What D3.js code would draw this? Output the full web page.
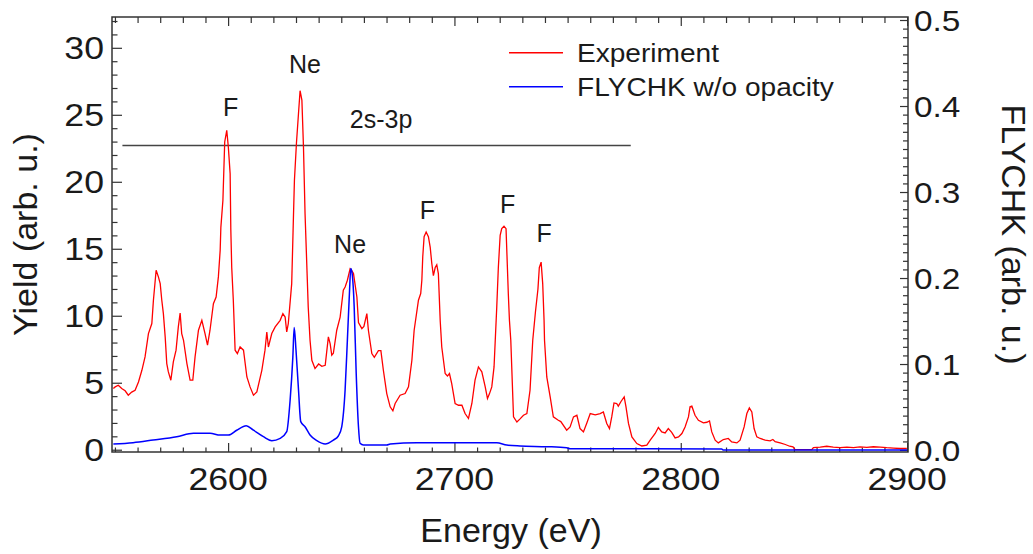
<!DOCTYPE html>
<html><head><meta charset="utf-8">
<script src="https://cdn.jsdelivr.net/npm/d3@7"></script>
<style>
html,body{margin:0;padding:0;background:#fff;}
svg{display:block;font-family:"Liberation Sans",Arial,sans-serif;}
</style></head>
<body>
<svg id="chart" width="1033" height="554"></svg>
<script>
// ---------- data ----------
const expEnergy = [2549.3,2550.1,2551.5,2553.0,2554.5,2555.9,2557.4,2558.9,2560.4,2561.9,2563.3,2564.8,2566.3,2567.0,2568.2,2569.2,2570.0,2570.7,2571.4,2572.2,2572.9,2573.6,2574.7,2575.8,2577.0,2578.0,2578.8,2579.5,2580.3,2581.8,2583.2,2584.4,2585.4,2586.9,2588.4,2589.8,2590.9,2592.0,2593.5,2594.7,2595.7,2596.5,2596.8,2597.7,2598.5,2599.4,2600.1,2600.9,2601.2,2601.6,2602.3,2603.1,2604.1,2605.3,2606.8,2608.3,2609.7,2611.2,2612.7,2614.9,2616.3,2617.1,2617.8,2619.3,2620.8,2623.0,2624.2,2625.2,2625.9,2626.6,2628.1,2628.9,2629.3,2630.2,2631.1,2631.8,2632.6,2633.3,2634.0,2635.0,2635.4,2636.2,2637.0,2638.4,2640.0,2641.4,2642.9,2644.3,2645.1,2645.8,2646.5,2648.0,2649.5,2650.9,2651.7,2652.7,2653.9,2654.5,2655.4,2656.9,2657.6,2659.1,2660.0,2661.3,2662.0,2663.5,2664.6,2666.4,2667.5,2668.6,2670.1,2671.6,2672.8,2673.8,2676.0,2678.2,2679.7,2681.2,2682.2,2684.1,2685.1,2685.6,2686.0,2686.6,2687.5,2688.5,2689.3,2690.0,2690.7,2691.5,2692.2,2692.9,2693.7,2694.4,2695.9,2696.9,2697.8,2698.8,2700.3,2701.8,2703.3,2704.7,2706.2,2707.7,2709.1,2710.6,2712.1,2713.6,2714.6,2715.5,2716.5,2717.5,2718.7,2719.4,2720.2,2720.9,2721.9,2722.8,2723.4,2723.8,2724.3,2724.9,2726.1,2727.6,2729.0,2730.5,2732.0,2733.4,2734.6,2735.8,2736.9,2737.5,2738.3,2739.0,2739.6,2739.8,2740.8,2742.3,2743.7,2745.9,2747.0,2749.6,2751.1,2752.6,2754.1,2755.5,2757.0,2758.5,2760.0,2762.2,2764.4,2765.8,2767.3,2768.5,2769.5,2770.5,2771.7,2772.4,2773.6,2775.0,2775.8,2776.9,2778.4,2780.6,2782.8,2785.0,2786.5,2788.7,2790.1,2791.6,2793.1,2794.5,2796.0,2797.5,2799.0,2800.5,2801.9,2803.4,2804.1,2804.9,2806.3,2807.8,2810.0,2811.5,2812.7,2813.7,2815.2,2816.6,2818.8,2821.0,2822.5,2824.8,2826.2,2828.0,2829.2,2830.3,2831.4,2832.4,2833.6,2835.1,2837.3,2839.5,2840.7,2841.7,2843.9,2846.2,2848.1,2849.6,2850.5,2857.9,2858.6,2861.6,2864.5,2867.4,2870.4,2873.4,2876.3,2879.2,2882.2,2885.1,2888.1,2891.0,2894.0,2896.9,2899.9];
const expYield = [4.57,4.69,4.81,4.57,4.4,4.07,4.3,4.44,5.06,5.93,6.93,8.67,9.42,11.16,13.4,12.9,12.4,11.16,10.16,8.42,6.43,5.81,5.19,6.55,7.43,9.17,10.2,8.67,8.17,6.43,5.19,5.19,6.93,8.92,9.66,8.67,7.8,8.92,10.9,11.4,12.9,14.9,16.6,18.6,22.97,23.84,22.6,20.6,16.4,13.6,11.16,7.43,7.18,7.67,7.43,5.43,4.69,4.07,4.31,5.93,7.43,8.79,7.67,8.67,9.17,9.66,10.16,9.9,8.79,9.42,12.4,17.6,20.1,22.9,25.1,26.8,26.1,22.6,17.6,12.65,10.66,8.17,6.68,6.06,6.4,6.23,6.3,8.42,7.9,7.05,7.2,8.92,9.9,11.9,12.15,12.65,13.5,13.4,13.15,11.4,9.5,9.04,9.2,10.16,8.9,7.18,6.9,7.4,7.4,5.93,4.19,3.2,2.9,3.45,4.07,4.19,4.69,6.68,8.92,11.16,11.66,12.65,14.4,15.9,16.25,15.9,15.1,13.9,13.0,13.6,13.8,13.15,9.66,7.67,5.69,5.5,5.69,4.94,3.45,3.32,3.32,2.7,2.33,3.45,5.19,6.18,5.81,4.69,3.82,4.19,4.69,6.18,10.66,13.6,16.0,16.5,16.68,16.5,13.6,11.66,9.66,8.17,2.45,2.07,2.3,2.57,2.7,4.44,8.17,10.3,12.0,13.6,14.0,12.4,9.66,8.17,5.43,3.94,2.45,2.2,2.1,1.46,1.7,2.45,2.57,1.58,1.33,2.0,2.7,2.6,2.7,2.82,1.96,1.58,2.45,3.49,3.45,3.25,3.6,3.94,3.2,1.96,0.96,0.46,0.28,0.34,0.71,1.21,1.66,1.33,1.25,1.58,1.3,0.88,0.95,1.21,1.7,2.45,3.2,3.25,2.57,2.2,2.0,2.05,2.15,1.33,0.71,0.51,0.76,0.84,0.58,0.51,0.71,1.7,2.7,3.12,2.82,1.58,0.96,0.84,0.71,0.66,0.76,0.6,0.51,0.39,0.26,0.21,0.0,0.0,0.16,0.2,0.26,0.2,0.16,0.2,0.16,0.21,0.18,0.22,0.2,0.15,0.12,0.09,0.09];

const simEnergy = [2549.3,2558.0,2566.9,2577.3,2584.7,2592.0,2596.5,2600.1,2603.8,2608.0,2611.2,2615.6,2619.3,2623.0,2625.9,2627.4,2628.6,2629.2,2630.0,2631.1,2632.1,2634.0,2636.2,2639.2,2642.9,2646.5,2648.7,2650.2,2651.7,2652.7,2653.6,2654.2,2654.8,2655.7,2656.6,2657.6,2658.3,2659.8,2670.1,2671.6,2683.4,2718.7,2723.1,2729.0,2740.8,2749.6,2751.1,2818.1,2818.7,2900.0];
const simValue = [0.007,0.0085,0.0116,0.0155,0.0194,0.0194,0.0174,0.0174,0.023,0.0283,0.023,0.0155,0.0109,0.0136,0.0213,0.058,0.108,0.1426,0.116,0.07,0.033,0.027,0.0174,0.0109,0.007,0.0116,0.0163,0.027,0.07,0.128,0.182,0.211,0.205,0.167,0.089,0.027,0.0078,0.0058,0.0058,0.007,0.0085,0.0085,0.0058,0.0047,0.0039,0.0027,0.0015,0.0012,0.0,0.0];

const xTicks = [2600,2700,2800,2900];
const yLeftTicks = [0,5,10,15,20,25,30];
const yRightTicks = [0.0,0.1,0.2,0.3,0.4,0.5];
const seriesNames = ["Experiment","FLYCHK w/o opacity"];
const seriesColors = ["#ff0000","#0000ff"];
const peakLabels = ["F","Ne","Ne","F","F","F"];
const peakLabelE = [2601.1,2634.0,2653.9,2688.1,2723.5,2739.6];
const peakLabelY = [24.92,28.15,14.72,17.25,17.7,15.47];
const bandLabel = "2s-3p";
const bandStartE = 2553.3, bandEndE = 2777.9, bandY = 22.71;
const bandLabelE = 2667.6, bandLabelY = 24.03;

// ---------- layout ----------
const L = 112, R = 908, T = 17, B = 452;
const svg = d3.select("#chart");
const x = d3.scaleLinear().domain([2548.7, 2900.4]).range([L, R]);
const yL = d3.scaleLinear().domain([-0.17, 32.3]).range([B, T]);
const yR = d3.scaleLinear().domain([-0.0023, 0.5035]).range([B, T]);
const ink = "#1a1a1a", frame = "#333";

svg.append("clipPath").attr("id","clip").append("rect").attr("x",L).attr("y",T).attr("width",R-L).attr("height",B-T);

const xMinor = d3.range(2550, 2901, 10).filter(v => !xTicks.includes(v));
const yLMinor = d3.range(0, 33, 1).filter(v => v % 5 !== 0);
const yRMinor = d3.range(0, 51, 1).map(v => v/100).filter((v,i) => i % 10 !== 0);

function axisG(axis, tx, ty){
  const g = svg.append("g").attr("transform",`translate(${tx},${ty})`).call(axis);
  g.select(".domain").remove();
  g.selectAll("line").attr("stroke",frame).attr("stroke-width",1.2);
  g.selectAll("text").remove();
  return g;
}
axisG(d3.axisBottom(x).tickValues(xTicks).tickSize(-9), 0, B);
axisG(d3.axisBottom(x).tickValues(xMinor).tickSize(-4.5), 0, B);
axisG(d3.axisTop(x).tickValues(xTicks).tickSize(-9), 0, T);
axisG(d3.axisTop(x).tickValues(xMinor).tickSize(-6), 0, T);
axisG(d3.axisLeft(yL).tickValues(yLeftTicks).tickSize(-10), L, 0);
axisG(d3.axisLeft(yL).tickValues(yLMinor).tickSize(-5.5), L, 0);
axisG(d3.axisRight(yR).tickValues(yRightTicks).tickSize(-8), R, 0);
axisG(d3.axisRight(yR).tickValues(yRMinor).tickSize(-5), R, 0);

svg.append("line").attr("x1",x(bandStartE)).attr("x2",x(bandEndE)).attr("y1",yL(bandY)).attr("y2",yL(bandY))
  .attr("stroke","#444").attr("stroke-width",1.5);

const expData = expEnergy.map((e,i)=>[e,expYield[i]]);
const simData = simEnergy.map((e,i)=>[e,simValue[i]]);
const plot = svg.append("g").attr("clip-path","url(#clip)");
plot.append("path").datum(expData).attr("fill","none").attr("stroke",seriesColors[0]).attr("stroke-width",1.3)
  .attr("d", d3.line().x(d=>x(d[0])).y(d=>yL(d[1])));
plot.append("path").datum(simData).attr("fill","none").attr("stroke",seriesColors[1]).attr("stroke-width",1.5)
  .attr("d", d3.line().curve(d3.curveMonotoneX).x(d=>x(d[0])).y(d=>yR(d[1])));

svg.append("rect").attr("x",L).attr("y",T).attr("width",R-L).attr("height",B-T)
  .attr("fill","none").attr("stroke",frame).attr("stroke-width",1.5);

const tickFont = 31, sx = 1.15;
xTicks.forEach(v=>{
  svg.append("text").attr("transform",`translate(${x(v)},490) scale(${sx},1)`)
    .attr("text-anchor","middle").attr("font-size",tickFont).attr("fill",ink).text(v);
});
yLeftTicks.forEach(v=>{
  svg.append("text").attr("transform",`translate(104,${yL(v)+11}) scale(${sx},1)`)
    .attr("text-anchor","end").attr("font-size",tickFont).attr("fill",ink).text(v);
});
yRightTicks.forEach(v=>{
  svg.append("text").attr("transform",`translate(914,${yR(v)+11}) scale(${sx},1)`)
    .attr("text-anchor","start").attr("font-size",tickFont-2).attr("fill",ink).text(v.toFixed(1));
});

svg.append("text").attr("transform",`translate(511,542)`).attr("text-anchor","middle")
  .attr("font-size",34).attr("fill",ink).text("Energy (eV)");
svg.append("text").attr("transform",`translate(37,${(T+B)/2}) rotate(-90)`).attr("text-anchor","middle")
  .attr("font-size",34).attr("fill",ink).text("Yield (arb. u.)");
svg.append("text").attr("transform",`translate(1002,${(T+B)/2}) rotate(90)`).attr("text-anchor","middle")
  .attr("font-size",34).attr("fill",ink).text("FLYCHK (arb. u.)");

peakLabels.forEach((t,i)=>{
  svg.append("text").attr("x",x(peakLabelE[i])).attr("y",yL(peakLabelY[i])).attr("text-anchor","middle")
    .attr("font-size",25).attr("fill",ink).text(t);
});
svg.append("text").attr("x",x(bandLabelE)).attr("y",yL(bandLabelY)).attr("text-anchor","middle")
  .attr("font-size",25).attr("fill",ink).text(bandLabel);

const legY = [52.7, 86.7];
seriesNames.forEach((n,i)=>{
  svg.append("line").attr("x1",509).attr("x2",563).attr("y1",legY[i]).attr("y2",legY[i])
    .attr("stroke",seriesColors[i]).attr("stroke-width",1.5);
  svg.append("text").attr("transform",`translate(577,${legY[i]+9}) scale(1.08,1)`)
    .attr("font-size",26).attr("fill",ink).text(n);
});
</script>
</body></html>
